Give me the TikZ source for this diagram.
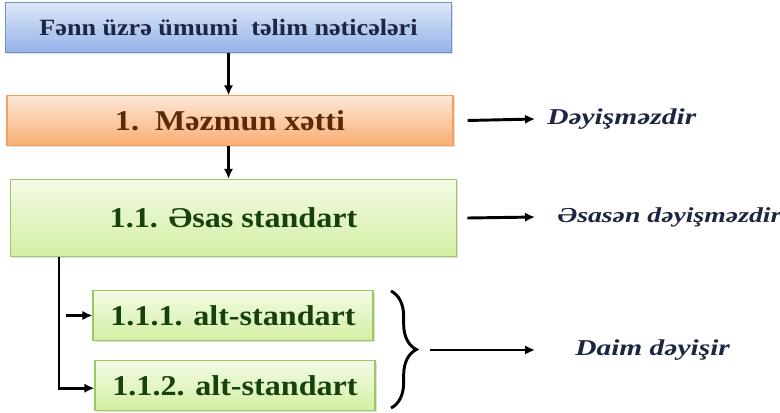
\documentclass[tikz,border=0pt]{standalone}
\usepackage{fontspec}
\setmainfont{Liberation Serif}
\newfontfamily\boxfont[FakeStretch=1.12]{Liberation Serif}
\newfontfamily\notefont[FakeStretch=1.3]{Liberation Serif}
\usetikzlibrary{positioning, calc, shadows, decorations.pathreplacing}
\usetikzlibrary{arrows.meta}
\tikzset{>={Latex[length=7.5pt,width=7pt]}}
\definecolor{bluetop}{HTML}{DFE8F8}
\definecolor{bluebot}{HTML}{93B2EA}
\definecolor{bluedge}{HTML}{6F90C9}
\definecolor{bluetxt}{HTML}{1C2541}
\definecolor{orgtop}{HTML}{FDE7D6}
\definecolor{orgbot}{HTML}{F9AE74}
\definecolor{orgedge}{HTML}{F2A060}
\definecolor{orgtxt}{HTML}{5A2A08}
\definecolor{grntop}{HTML}{F3FBE6}
\definecolor{grnbot}{HTML}{D3EFA2}
\definecolor{grnedge}{HTML}{9CC862}
\definecolor{grntxt}{HTML}{17400F}

\begin{document}
\begin{tikzpicture}[x=0.75pt, y=-0.75pt,
	box/.style={draw, rectangle, line width=0.8pt, inner sep=0pt,
		drop shadow={shadow xshift=1.2pt, shadow yshift=-1.2pt, opacity=0.25}},
	bluebox/.style={box, draw=bluedge, top color=bluetop, bottom color=bluebot, text=bluetxt,
		font=\boxfont\bfseries\fontsize{17.5pt}{21pt}\selectfont},
	orgbox/.style={box, draw=orgedge, top color=orgtop, bottom color=orgbot, text=orgtxt,
		font=\boxfont\bfseries\fontsize{21.5pt}{25pt}\selectfont},
	grnbox/.style={box, draw=grnedge, top color=grntop, bottom color=grnbot, text=grntxt,
		font=\boxfont\bfseries\fontsize{21.5pt}{25pt}\selectfont},
	note/.style={anchor=west, inner sep=0pt, text=bluetxt,
		font=\notefont\bfseries\itshape\fontsize{17pt}{20pt}\selectfont},
	link/.style={line width=2.2pt},
	brace/.style={link, decorate, decoration={brace, amplitude=19pt, aspect=0.5}}]
	\useasboundingbox (0,0) rectangle (780,412);
	\node[bluebox, minimum width=335pt, minimum height=38pt] (general) at (228.5,27.5) {Fənn üzrə ümumi\ \ təlim nəticələri};
	\node[orgbox, minimum width=334.5pt, minimum height=37pt] (content) at (230,120.5) {1.\ \ Məzmun xətti};
	\node[grnbox, minimum width=335pt, minimum height=58pt] (basic) at (233.5,218) {1.1. Əsas standart};
	\node[grnbox, minimum width=210pt, minimum height=37pt] (sub1) at (233,315.5) {1.1.1. alt-standart};
	\node[grnbox, minimum width=210pt, minimum height=37pt] (sub2) at (235,385.5) {1.1.2. alt-standart};
	\node[note] (fixed) at (547,119) {Dəyişməzdir};
	\node[note, font=\notefont\bfseries\itshape\fontsize{16pt}{19pt}\selectfont] (mostly) at (557,217) {Əsasən dəyişməzdir};
	\node[note] (always) at (575,350) {Daim dəyişir};
	\coordinate (braceTop) at (391,291);
	\coordinate (braceBot) at (391,408);
	\coordinate (braceTip) at (430,350);
	\draw[link, ->] (general.south) -- (content.north -| general.south);
	\draw[link, ->] (content.south -| general.south) -- (basic.north -| general.south);
	\draw[link, ->] ([xshift=10.5pt]content.east) -- ([xshift=-9pt]fixed.west);
	\draw[link, ->] ([xshift=7.5pt]basic.east) -- ([xshift=-16.5pt]mostly.west);
	\draw[link, ->] ([xshift=37pt]basic.south west) |- ([yshift=-2pt]sub2.west);
	\draw[link, ->] ([xshift=-20pt]sub1.west) -- (sub1.west);
	\draw[brace] (braceTop) -- (braceBot);
	\draw[link, ->] (braceTip) -- ([xshift=-30pt]always.west);
\end{tikzpicture}
\end{document}
